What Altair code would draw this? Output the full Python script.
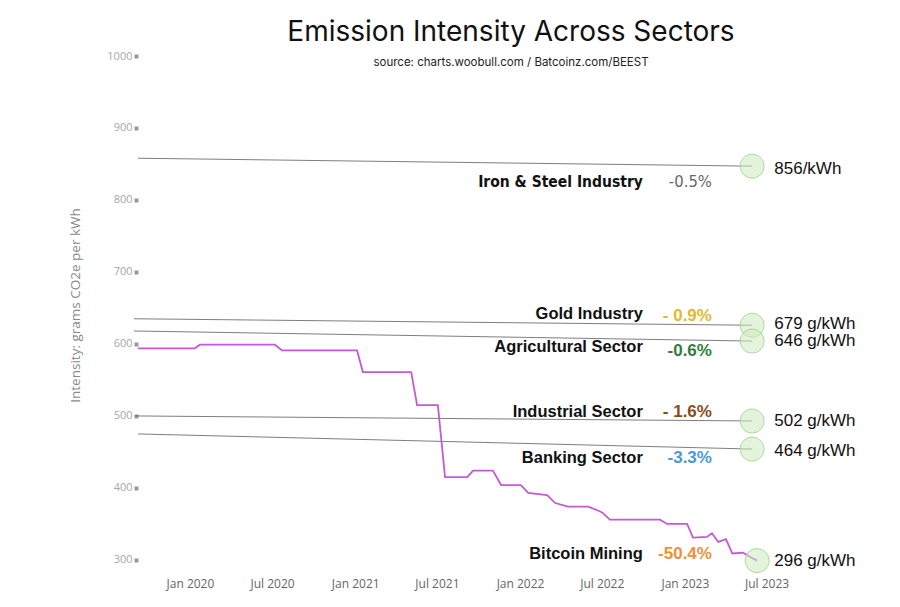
import altair as alt
import pandas as pd

# ---- Bitcoin mining emission intensity (g CO2e / kWh) ----
btc_dates = [
    "2019-09-08", "2020-01-12", "2020-01-23", "2020-07-07", "2020-07-23",
    "2021-01-05", "2021-01-18", "2021-05-05", "2021-05-18", "2021-07-03",
    "2021-07-19", "2021-09-06", "2021-09-19", "2021-11-02", "2021-11-20",
    "2022-01-03", "2022-01-19", "2022-03-02", "2022-03-20", "2022-04-17",
    "2022-06-01", "2022-06-21", "2022-07-02", "2022-07-19", "2022-11-07",
    "2022-11-23", "2023-01-06", "2023-01-19", "2023-02-19", "2023-03-02",
    "2023-03-16", "2023-04-02", "2023-04-16", "2023-05-10", "2023-05-26",
    "2023-06-10",
]
btc_values = [
    594, 594, 599, 599, 591,
    591, 561, 561, 515, 515,
    415, 415, 424, 424, 404,
    404, 393, 390, 379, 374,
    374, 369, 366, 356, 356,
    350, 350, 331, 332, 337,
    325, 329, 309, 310, 304,
    299,
]

# ---- Other sectors (straight trend lines) ----
sector_names = ["Iron & Steel Industry", "Gold Industry", "Agricultural Sector",
                "Industrial Sector", "Banking Sector"]
line_start_dates = ["2019-09-08", "2019-08-30", "2019-08-30", "2019-09-02", "2019-09-08"]
line_start_values = [858, 635, 618, 500, 475]
line_end_dates = ["2023-05-30", "2023-05-30", "2023-05-30", "2023-05-30", "2023-05-30"]
line_end_values = [847, 626, 604, 493, 454]

# ---- Annotations ----
all_names = sector_names + ["Bitcoin Mining"]
end_dates = line_end_dates + [btc_dates[-1]]
end_values = line_end_values + [btc_values[-1]]
value_labels = ["856/kWh", "679 g/kWh", "646 g/kWh", "502 g/kWh", "464 g/kWh", "296 g/kWh"]
pct_labels = ["-0.5%", "- 0.9%", "-0.6%", "- 1.6%", "-3.3%", "-50.4%"]
name_label_values = [825, 642, 596, 506, 442, 308]
pct_label_values = [825, 639, 590, 506, 442, 308]
value_label_values = [843, 628, 604, 493, 451, 299]
name_label_date = "2022-09-30"
pct_label_date = "2023-03-02"
value_label_date = "2023-07-18"
pct_colors = ["#666666", "#e6b733", "#2f7d3a", "#8a4b1c", "#4a98db", "#f0913a"]

x_tick_dates = [(2020, 1), (2020, 7), (2021, 1), (2021, 7), (2022, 1), (2022, 7), (2023, 1), (2023, 7)]
y_ticks = [300, 400, 500, 600, 700, 800, 900, 1000]

# ---- data frames ----
btc_df = pd.DataFrame({"date": btc_dates, "value": btc_values})
lines_df = pd.DataFrame({
    "sector": sector_names * 2,
    "date": line_start_dates + line_end_dates,
    "value": line_start_values + line_end_values,
})
ends_df = pd.DataFrame({"sector": all_names, "date": end_dates, "value": end_values})
names_df = pd.DataFrame({"sector": all_names, "date": [name_label_date] * 6,
                         "value": name_label_values})
pct_df = pd.DataFrame({"sector": all_names, "label": pct_labels,
                       "date": [pct_label_date] * 6, "value": pct_label_values})
vals_df = pd.DataFrame({"sector": all_names, "label": value_labels,
                        "date": [value_label_date] * 6, "value": value_label_values})

CONDENSED = "'Liberation Sans Narrow', 'DejaVu Sans Condensed', 'Roboto Condensed', Roboto"

X = alt.X(
    "date:T",
    scale=alt.Scale(type="utc", domain=[
        alt.DateTime(year=2019, month=9, date=8, utc=True),
        alt.DateTime(year=2024, month=3, date=17, utc=True)]),
    axis=alt.Axis(
        values=[alt.DateTime(year=y, month=m, date=1, utc=True) for y, m in x_tick_dates],
        labelExpr="utcFormat(datum.value, '%b %Y')",
        ticks=False, domain=False, grid=False,
        labelFont="Open Sans", labelFontSize=12, labelColor="#666666", labelPadding=8,
    ),
    title=None,
)
Y = alt.Y(
    "value:Q",
    scale=alt.Scale(domain=[286, 1000], nice=False, zero=False),
    axis=alt.Axis(
        values=y_ticks, format="d", domain=False, grid=False,
        tickSize=4, tickWidth=4, tickColor="#9a9a9a", labelPadding=2,
        labelFont="Open Sans", labelFontSize=11, labelColor="#a6a6a6",
        title="Intensity: grams CO2e per kWh", titleFont="Open Sans",
        titleFontSize=13.5, titleFontWeight="normal", titleColor="#8a8a8a",
        titleX=-63, titleY=249, titleAngle=270, titleAlign="center", titleBaseline="middle",
    ),
)

gray_lines = alt.Chart(lines_df).mark_line(color="#555555", strokeWidth=0.9, opacity=0.85).encode(
    x=X, y=Y, detail="sector:N")

btc_line = alt.Chart(btc_df).mark_line(color="#c45ad6", strokeWidth=1.8).encode(x=X, y=Y)

circles = alt.Chart(ends_df).mark_point(
    shape="circle", size=580, filled=True, fill="#cde9c0", fillOpacity=0.55,
    stroke="#9fd191", strokeWidth=1, strokeOpacity=0.8,
).encode(x=X, y=Y)

name_text = alt.Chart(names_df).transform_filter(
    alt.datum.sector != "Iron & Steel Industry"
).mark_text(align="right", baseline="middle", font="Liberation Sans",
            fontWeight="bold", fontSize=16.5, color="#111111").encode(
    x=X, y=Y, text="sector:N")

iron_text = alt.Chart(names_df).transform_filter(
    alt.datum.sector == "Iron & Steel Industry"
).mark_text(align="right", baseline="middle", font=CONDENSED,
            fontWeight="bold", fontSize=15.5, color="#111111").encode(
    x=X, y=Y, text="sector:N")

pct_text = alt.Chart(pct_df).transform_filter(
    alt.datum.sector != "Iron & Steel Industry"
).mark_text(align="right", baseline="middle", font="Liberation Sans",
            fontWeight="bold", fontSize=17).encode(
    x=X, y=Y, text="label:N",
    color=alt.Color("sector:N", scale=alt.Scale(domain=all_names, range=pct_colors), legend=None))

iron_pct = alt.Chart(pct_df).transform_filter(
    alt.datum.sector == "Iron & Steel Industry"
).mark_text(align="right", baseline="middle", font=CONDENSED,
            fontSize=16.5, color="#666666").encode(
    x=X, y=Y, text="label:N")

val_text = alt.Chart(vals_df).mark_text(
    align="left", baseline="middle", font="Liberation Sans", fontSize=17, color="#111111"
).encode(x=X, y=Y, text="label:N")

chart = alt.layer(
    gray_lines, btc_line, circles, name_text, iron_text, pct_text, iron_pct, val_text
).properties(
    width=746, height=514,
    background="white",
    autosize=alt.AutoSizeParams(type="none"),
    padding={"left": 130, "top": 48, "right": 8, "bottom": 29},
    title=alt.TitleParams(
        text="Emission Intensity Across Sectors",
        subtitle="source:  charts.woobull.com / Batcoinz.com/BEEST",
        font="Inter", fontSize=28, fontWeight="normal", color="#111111",
        subtitleFont="Inter", subtitleFontSize=11.5, subtitleFontWeight="normal",
        subtitleColor="#222222", anchor="middle", offset=-18, subtitlePadding=10,
    ),
).configure_view(stroke=None)

chart.save("out.html", embed_options={"renderer": "svg", "actions": False})
